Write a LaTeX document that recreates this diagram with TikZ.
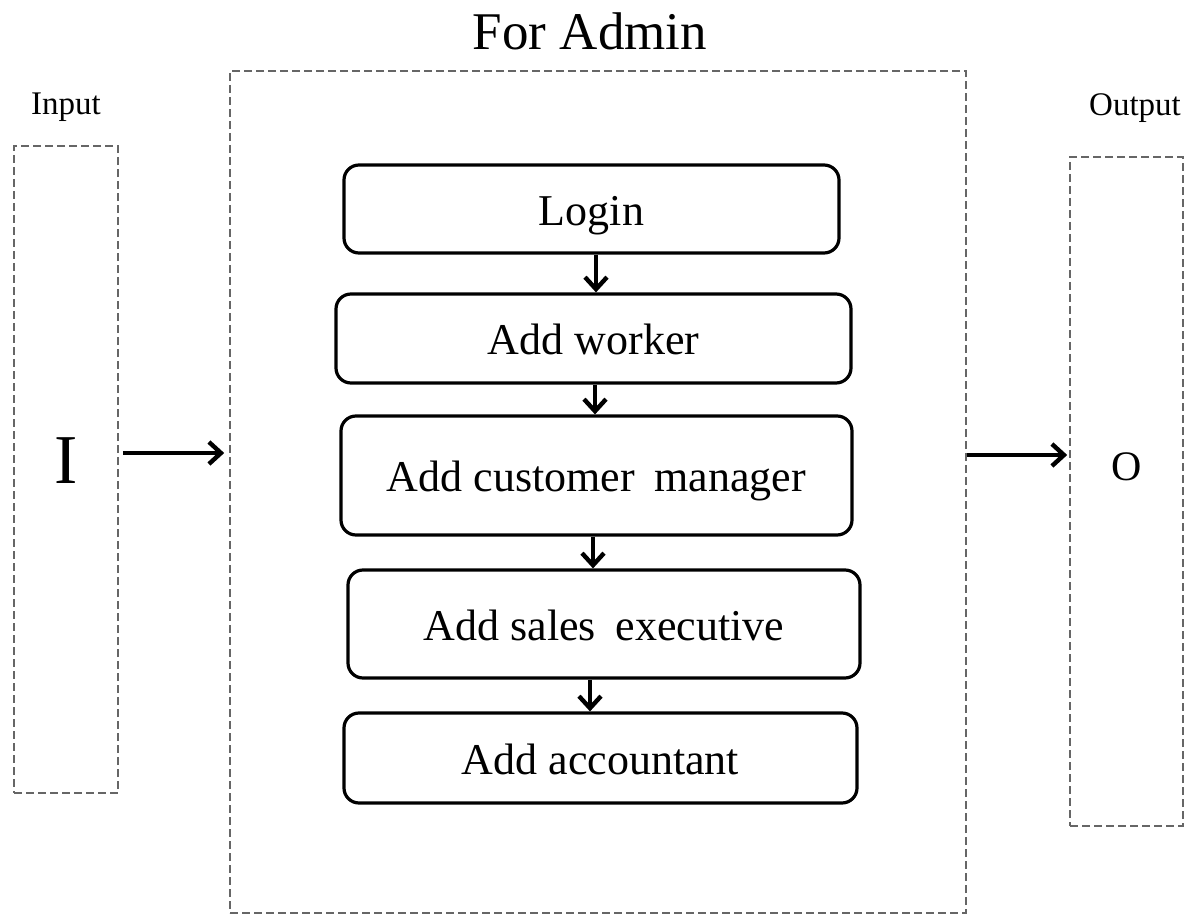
\documentclass[tikz,border=0pt]{standalone}
\usepackage{fontspec}
\setmainfont{Liberation Serif}
\usetikzlibrary{arrows.meta}
\begin{document}
\begin{tikzpicture}[x=0.5pt,y=-0.5pt,
  dashbox/.style={draw=black!60,line width=0.8pt,dash pattern=on 4pt off 2pt,inner sep=0pt},
  stepbox/.style={draw=black,line width=1.6pt,rounded corners=7.5pt,inner sep=0pt,
    text height=16pt,text depth=0pt,font=\fontsize{22}{26}\selectfont},
  flow/.style={line width=2.2pt,-{Straight Barb[length=6pt,width=11pt,line width=2.2pt]}},
  label/.style={font=\fontsize{16.5}{20}\selectfont,anchor=base}]
\useasboundingbox (0,0) rectangle (1189,915);
% dashed frames
\node[dashbox,minimum width=52pt,minimum height=323.5pt] (inbox) at (66,469.5) {};
\node[dashbox,minimum width=368pt,minimum height=421pt] (main) at (598,492) {};
\node[dashbox,minimum width=56.5pt,minimum height=334.5pt] (outbox) at (1126.5,491.5) {};
% labels
\node[label] (inlab) at (66,115) {Input};
\node[label] (outlab) at (1135,116) {Output};
\node[font=\fontsize{26.5}{30}\selectfont,anchor=base] (title) at (590,50) {For Admin};
\node[font=\fontsize{35}{40}\selectfont,anchor=base] (ilet) at (66,483) {I};
\node[font=\fontsize{21}{25}\selectfont,anchor=base] (olet) at (1127,480) {O};
% steps
\node[stepbox,minimum width=247.5pt,minimum height=44pt] (login) at (591.5,209) {Login};
\node[stepbox,minimum width=257.5pt,minimum height=44.5pt] (worker) at (593.5,338.5) {Add worker};
\node[stepbox,minimum width=255.5pt,minimum height=59.5pt] (cust) at (596.5,475.5) {Add customer\hspace{0.45em}manager};
\node[stepbox,minimum width=256pt,minimum height=54pt] (sales) at (604,624) {Add sales\hspace{0.45em}executive};
\node[stepbox,minimum width=256.5pt,minimum height=45pt] (acct) at (600.5,758) {Add accountant};
% vertical arrows
\draw[flow] (login.south -| 596,0) -- (worker.north -| 596,0);
\draw[flow] (worker.south -| 595,0) -- (cust.north -| 595,0);
\draw[flow] (cust.south -| 593,0) -- (sales.north -| 593,0);
\draw[flow] (sales.south -| 590,0) -- (acct.north -| 590,0);
% side arrows
\coordinate (ya) at (0,453);
\coordinate (yb) at (0,455);
\draw[flow,shorten <=2pt,shorten >=2.5pt] (inbox.east |- ya) -- (main.west |- ya);
\draw[flow,shorten >=1pt] (main.east |- yb) -- (outbox.west |- yb);
\end{tikzpicture}
\end{document}
